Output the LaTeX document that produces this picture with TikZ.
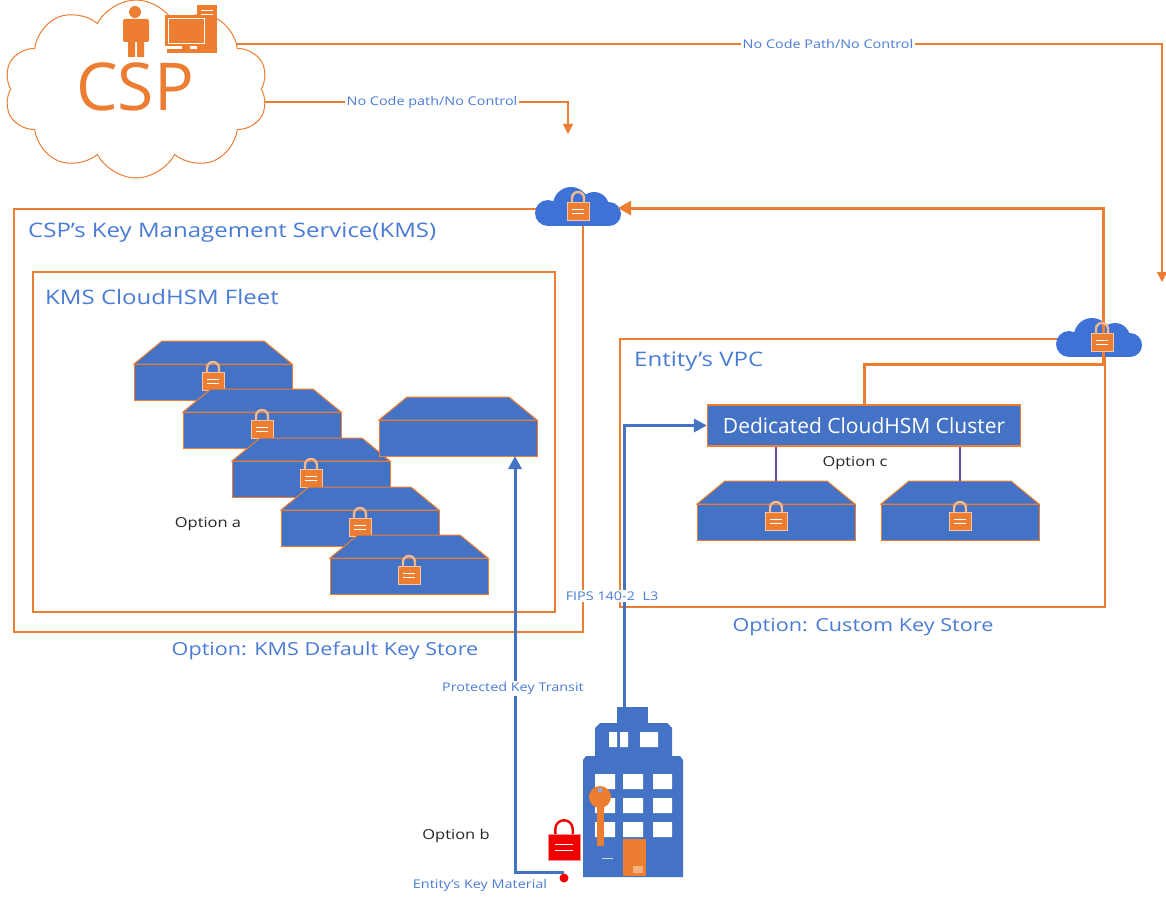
\documentclass[tikz,border=0pt]{standalone}
\usepackage{fontspec}
\setmainfont{Open Sans}[FakeStretch=1.2]
\newfontfamily\plainfont{Open Sans}
\usetikzlibrary{shapes.symbols,arrows.meta,calc}

\definecolor{hsmblue}{HTML}{4472C4}
\definecolor{cloudblue}{HTML}{3E72D6}
\definecolor{edgeorange}{HTML}{ED7D31}
\definecolor{txtblue}{HTML}{4A7CD6}
\definecolor{lockred}{HTML}{F20000}

\tikzset{
  frame/.style={draw=edgeorange, line width=1.3pt, anchor=north west, inner sep=0pt, outer sep=0pt},
  heading/.style={text=txtblue, anchor=west, inner sep=0pt, font=\fontsize{20}{24}\selectfont},
  optlabel/.style={text=txtblue, inner sep=0pt, font=\fontsize{18}{22}\selectfont},
  pathlabel/.style={text=txtblue, fill=white, inner sep=1.5pt, font=\fontsize{12}{14}\selectfont},
  choice/.style={text=black!85, inner sep=0pt, font=\fontsize{13.7}{16}\selectfont},
  hsmface/.style={draw=edgeorange, fill=hsmblue, line width=1pt, minimum width=158pt,
    minimum height=36pt, inner sep=0pt, outer sep=0pt, anchor=north west},
  thinarrow/.style={draw=edgeorange, line width=1.3pt, -{Triangle[length=10pt,width=10pt]}},
  keyroute/.style={draw=edgeorange, line width=3pt, -{Triangle[length=13pt,width=14pt]}},
  bluearrow/.style={draw=hsmblue, line width=3pt, -{Triangle[length=13pt,width=13pt]}},
  stub/.style={draw=hsmblue!70!violet, line width=1.2pt},
  cloudspot/.style={rectangle, draw=none, minimum width=80pt, minimum height=40pt, inner sep=0pt, outer sep=0pt},
  shackle/.style={draw=edgeorange!55!white},
  pics/padlock/.style={code={
    \draw[line width=2.4pt, shackle] (-6,-5) -- (-6,-9) arc[start angle=180, end angle=360, radius=6] -- (6,-5);
    \filldraw[fill=#1, draw=#1!45!white, line width=0.8pt] (-11,-5) rectangle (11,13);
    \draw[white, line width=1pt] (-6,2) -- (6,2) (-6,6) -- (6,6);
  }},
}

% one HSM appliance: front face node plus bevelled top and padlock
\newcommand\hsmunit[4][1]{%
  \node[hsmface] (#2) at (#3,#4) {};
  \filldraw[fill=hsmblue, draw=edgeorange, line width=1pt]
    (#2.north west) -- ++(28,-23) coordinate (#2-tl)
    -- ($(#2.north east)+(-28,-23)$) coordinate (#2-tr) -- (#2.north east) -- cycle;
  \coordinate (#2-top) at ($(#2.north)+(0,-23)$);
  \ifnum#1=1 \pic at ($(#2.north)+(0,13)$) {padlock=edgeorange};\fi
}

% smooth blue cloud built from overlapping lobes around a placeholder node
\newcommand\bluecloud[1]{%
  \fill[cloudblue] ($(#1.center)+(-30,5)$) circle[radius=13];
  \fill[cloudblue] ($(#1.center)+(-7,-3)$) circle[radius=18];
  \fill[cloudblue] ($(#1.center)+(16,-1)$) circle[radius=15];
  \fill[cloudblue] ($(#1.center)+(31,6)$) circle[radius=12];
  \fill[cloudblue] ($(#1.center)+(-30,4)$) rectangle ($(#1.center)+(31,18)$);
}

\begin{document}
\begin{tikzpicture}[x=1pt,y=-1pt]
\useasboundingbox (0,0) rectangle (1166,896);
\fill[white] (0,0) rectangle (1166,896);

% ---- connectors leaving the provider cloud
\coordinate (cspA) at (230,44);
\coordinate (farDrop) at (1162,282);
\coordinate (cspB) at (230,102);
\coordinate (nearDrop) at (568,134);
\draw[thinarrow] (cspA) -| (farDrop);
\draw[thinarrow] (cspB) -| (nearDrop);

% ---- provider cloud
\node[cloud, cloud puffs=10, cloud puff arc=125, cloud ignores aspect, draw=edgeorange, fill=white, line width=1pt,
      minimum width=264pt, minimum height=178pt] (csp) at (136,89) {};
\node[text=edgeorange, inner sep=0pt, font=\plainfont\fontsize{66}{70}\selectfont] (csptext) at (135,87) {CSP};
% operator
\fill[edgeorange] (135,12) circle[radius=6];
\fill[edgeorange, rounded corners=2pt] (123,19) rectangle (149,42);
\fill[edgeorange] (128,40) rectangle (135,57) (137,40) rectangle (144,57);
% workstation
\fill[edgeorange] (197,5) rectangle (217,53);
\draw[white, line width=0.6pt] (201,10) -- (213,10) (201,14) -- (213,14);
\fill[edgeorange] (165,15) rectangle (207,46);
\draw[white, line width=0.8pt] (168,18) rectangle (204,43);
\fill[edgeorange] (182,46) rectangle (190,49);
\fill[edgeorange] (167,49) rectangle (210,53);

\node[pathlabel] (lblA) at (828,44) {No Code Path/No Control};
\node[pathlabel] (lblB) at (432,102) {No Code path/No Control};

% ---- containers
\node[frame, minimum width=569pt, minimum height=423pt] (kms) at (14,209) {};
\node[heading] (kmstitle) at (28,233) {CSP’s Key Management Service(KMS)};
\node[frame, minimum width=522pt, minimum height=340pt] (fleet) at (33,272) {};
\node[heading] (fleettitle) at (45,297) {KMS CloudHSM Fleet};
\node[frame, minimum width=485pt, minimum height=268pt] (vpc) at (620,339) {};
\node[heading] (vpctitle) at (634,362) {Entity’s VPC};

% ---- KMS fleet appliances
\hsmunit{f1}{134}{364}
\hsmunit{f2}{183}{412}
\hsmunit{f3}{232}{461}
\hsmunit{f4}{281}{510}
\hsmunit{f5}{330}{558}
\hsmunit[0]{f6}{379}{420}
\node[choice] (opta) at (208,524) {Option a};

% ---- dedicated cluster
\node[draw=edgeorange, fill=hsmblue, line width=1.2pt, text=white, minimum width=313pt,
      minimum height=41pt, inner sep=0pt, font=\plainfont\fontsize{21}{24}\selectfont] (cluster) at (864,425.5)
      {Dedicated CloudHSM Cluster};
\hsmunit{c1}{697}{504}
\hsmunit{c2}{881}{504}
\draw[stub] (c1-top |- cluster.south) -- (c1-top);
\draw[stub] (c2-top |- cluster.south) -- (c2-top);
\node[choice] (optc) at (855,463) {Option c};

% ---- lock clouds
\node[cloudspot] (kmscloud) at (578,208) {};
\bluecloud{kmscloud}
\node[cloudspot] (vpccloud) at (1099,339) {};
\bluecloud{vpccloud}

% ---- key route from the dedicated cluster back to the KMS
\coordinate (riser) at (1103,364);
\draw[keyroute] (cluster.north) |- (riser) |- (kmscloud.east);
\pic at ($(kmscloud.center)+(0,-1)$) {padlock=edgeorange};
\pic at ($(vpccloud.center)+(3,-1)$) {padlock=edgeorange};

% ---- entity building
\coordinate (bldgtop) at (624,707);
\fill[hsmblue] (617,707) rectangle (648,724);
\fill[hsmblue] (595,758) -- (595,728) -- (600,723) -- (667,723) -- (672,728) -- (672,758) -- cycle;
\fill[hsmblue] (583,760) -- (586,756) -- (680,756) -- (683,760) -- (683,877) -- (583,877) -- cycle;
\fill[white] (609,732) rectangle (617,747) (620,732) rectangle (628,747) (640,732) rectangle (658,747);
\foreach \wy in {774,798,822}
  \fill[white] (595,\wy) rectangle (615,\wy+15) (623,\wy) rectangle (643,\wy+15) (653,\wy) rectangle (672,\wy+15);
\fill[hsmblue] (609,838) rectangle (616,846);
\fill[edgeorange] (600,797) circle[radius=11];
\fill[hsmblue!60!white] (600,790) circle[radius=2.5];
\fill[edgeorange] (597,805) rectangle (604,846);
\fill[edgeorange] (623,839) rectangle (646,876);
\fill[edgeorange!60!white] (633,866) rectangle (643,873);
\draw[hsmblue!30!white, line width=0.8pt] (602,858) -- (613,858);

% ---- entity route into its VPC
\draw[bluearrow] (bldgtop) |- (cluster.west);
\node[pathlabel] (fips) at (612,596) {FIPS 140-2 \ L3};

% ---- customer key material
\pic[scale=1.45, shackle/.style={draw=lockred}] at (564,842) {padlock=lockred};
\fill[lockred] (564,878) circle[radius=4.5];
\coordinate (keymat) at (564,872);
\draw[bluearrow] (keymat) -| ($(f6.south east)+(-22,0)$);
\node[pathlabel] (transit) at (513,688) {Protected Key Transit};
\node[choice] (optb) at (456,836) {Option b};
\node[pathlabel] (material) at (480,885) {Entity’s Key Material};

% ---- store options
\node[optlabel] (kmsopt) at (325,651) {Option: KMS Default Key Store};
\node[optlabel] (customopt) at (863,627) {Option: Custom Key Store};
\end{tikzpicture}
\end{document}
